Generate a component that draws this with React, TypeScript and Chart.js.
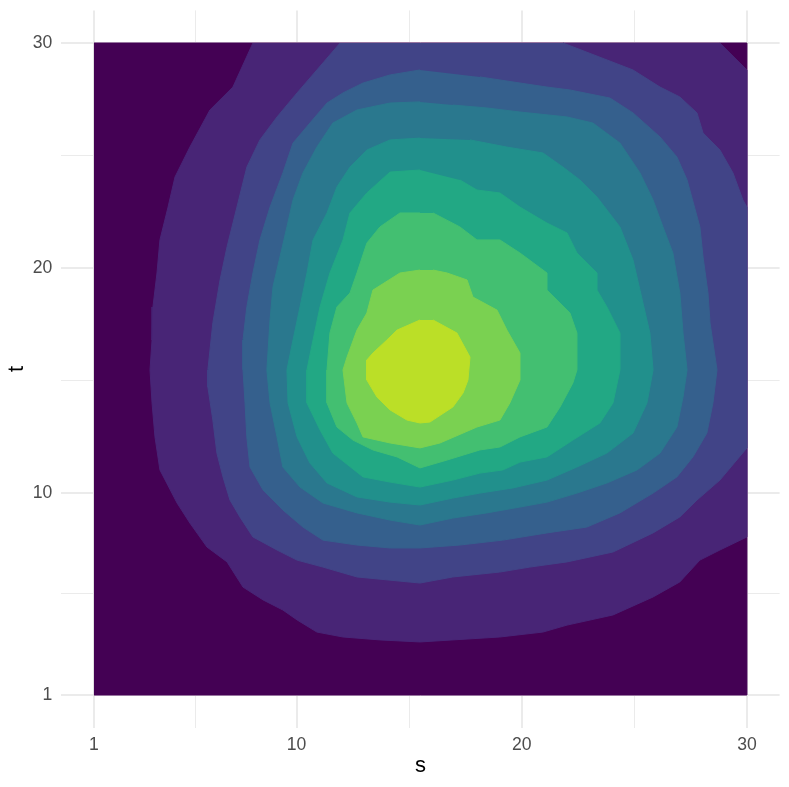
import React, { useEffect, useRef } from "react";
import { Chart, registerables } from "chart.js";

Chart.register(...registerables);

// Axis ticks
const xMajorTicks = [1, 10, 20, 30];
const yMajorTicks = [1, 10, 20, 30];
const xMinorTicks = [5.5, 15, 25];
const yMinorTicks = [5.5, 15, 25];
const xRange = [1, 30];
const yRange = [1, 30];
const xTitle = "s";
const yTitle = "t";

// viridis colours for the density bands (low -> high)
const bandColors = [
  "#440154",
  "#482576",
  "#414487",
  "#35608D",
  "#2A788E",
  "#21908C",
  "#22A884",
  "#43BF71",
  "#7AD151",
  "#BBDF27",
];

// Filled contour regions, each an [s, t] polygon (clipped to the data box)
const band1 = [[1, 1], [30, 1], [30, 30], [1, 30]];

const band2 = [
  [8.06, 30], [7.17, 28.04], [6.15, 27.02], [5.26, 25.37], [4.6, 24.04], [4.29, 22.7],
  [3.93, 21.24], [3.8, 19.77], [3.62, 18.26], [3.58, 16.79], [3.49, 15.46], [3.58, 13.99],
  [3.71, 12.48], [3.93, 11.01], [4.69, 9.54], [5.26, 8.65], [6.02, 7.58], [6.91, 6.92],
  [7.62, 5.8], [8.51, 5.23], [9.39, 4.78], [10.02, 4.34], [10.9, 3.8], [12.06, 3.58],
  [13.7, 3.45], [15.48, 3.36], [19.03, 3.58], [20.94, 3.8], [22.01, 4.11], [24.05, 4.56],
  [25.83, 5.36], [27.02, 6.03], [27.91, 7.0], [28.8, 7.45], [30, 8.03], [30, 28.8], [28.8, 30],
];

const band3 = [
  [11.93, 30], [10.9, 28.8], [10.02, 27.78], [9.13, 26.71], [8.37, 25.69], [7.79, 24.48],
  [7.35, 22.7], [6.91, 20.93], [6.6, 19.46], [6.28, 17.55], [6.06, 15.46], [6.06, 14.7],
  [6.28, 13.23], [6.46, 11.76], [6.73, 10.7], [7.04, 9.67], [7.48, 8.92], [8.06, 8.03],
  [9.13, 7.45], [10.02, 7.0], [11.17, 6.69], [12.68, 6.25], [15.48, 5.98], [16.94, 6.25],
  [19.03, 6.47], [20.36, 6.69], [22.01, 6.92], [24.05, 7.36], [25.83, 8.21], [27.02, 8.92],
  [27.78, 9.67], [28.8, 10.56], [30, 11.99], [30, 22.7], [29.82, 23.02], [29.38, 24.22],
  [28.8, 25.24], [28.05, 26.0], [27.78, 26.89], [27.02, 27.6], [26.14, 28.04], [24.94, 28.8],
  [21.83, 30],
];

const band4 = [
  [15.48, 28.8], [14.15, 28.58], [12.95, 28.22], [12.06, 27.78], [11.35, 27.33], [10.59, 26.44],
  [9.84, 25.55], [9.39, 24.22], [8.82, 22.7], [8.37, 21.24], [8.06, 19.77], [7.79, 18.26],
  [7.62, 16.79], [7.62, 15.46], [7.71, 13.99], [7.79, 12.48], [7.93, 11.14], [8.51, 10.12],
  [9.39, 9.23], [10.28, 8.47], [11.17, 7.89], [12.68, 7.67], [14.15, 7.54], [15.48, 7.54],
  [17.25, 7.67], [19.16, 7.89], [21.12, 8.21], [22.89, 8.47], [24.36, 9.1], [25.83, 9.98],
  [26.89, 10.7], [27.6, 11.59], [28.22, 12.65], [28.49, 13.99], [28.67, 15.46], [28.36, 17.55],
  [28.27, 18.88], [28.05, 20.48], [27.91, 21.82], [27.34, 23.91], [26.89, 24.93], [26.14, 25.82],
  [24.94, 26.89], [23.92, 27.55], [22.14, 27.91], [21.12, 28.04], [19.92, 28.22], [18.14, 28.49],
];

const band5 = [
  [15.48, 27.38], [14.15, 27.33], [12.68, 27.02], [11.61, 26.44], [10.9, 25.37], [10.28, 24.22],
  [9.84, 23.02], [9.57, 21.82], [9.26, 20.48], [8.95, 19.15], [8.82, 17.68], [8.68, 15.46],
  [8.82, 13.99], [9.13, 12.48], [9.39, 11.14], [10.15, 10.25], [11.17, 9.54], [12.68, 9.1],
  [14.15, 8.78], [15.48, 8.56], [16.94, 8.87], [18.45, 9.1], [19.92, 9.36], [21.12, 9.58],
  [22.45, 9.98], [23.78, 10.43], [25.12, 11.01], [26.14, 11.76], [26.89, 12.92], [27.16, 14.25],
  [27.34, 15.46], [27.16, 17.1], [27.02, 18.88], [26.71, 20.66], [26.27, 21.82], [25.83, 23.02],
  [25.25, 24.22], [24.36, 25.55], [23.16, 26.44], [22.01, 26.71], [19.92, 26.93], [18.45, 27.11],
  [16.94, 27.24],
];

const band6 = [
  [15.48, 25.77], [14.15, 25.69], [13.12, 25.24], [12.37, 24.48], [11.79, 23.6], [11.35, 22.44],
  [10.73, 21.24], [10.46, 19.77], [10.15, 18.26], [9.84, 16.79], [9.57, 15.46], [9.62, 13.99],
  [10.02, 12.48], [10.59, 11.32], [11.35, 10.43], [12.68, 9.81], [14.15, 9.58], [15.48, 9.45],
  [16.94, 9.76], [18.14, 9.98], [19.61, 10.21], [21.12, 10.56], [22.45, 11.14], [23.78, 11.76],
  [24.94, 12.65], [25.56, 13.99], [25.83, 15.46], [25.69, 17.1], [25.25, 19.01], [24.94, 20.35],
  [24.36, 21.82], [23.34, 23.15], [22.58, 23.91], [21.83, 24.48], [20.94, 25.11], [19.34, 25.37],
  [17.7, 25.69],
];

const band7 = [
  [15.48, 24.35], [14.15, 24.26], [13.12, 23.33], [12.37, 22.44], [12.06, 21.24], [11.48, 19.77],
  [11.04, 18.26], [10.73, 16.79], [10.46, 15.46], [10.46, 13.99], [11.04, 12.79], [11.61, 11.76],
  [12.95, 10.7], [14.15, 10.47], [15.48, 10.25], [16.94, 10.56], [18.14, 10.87], [19.16, 11.01],
  [19.92, 11.36], [21.12, 11.59], [22.27, 12.34], [23.47, 13.1], [24.05, 13.99], [24.36, 15.46],
  [24.36, 17.1], [23.78, 18.26], [23.34, 19.01], [23.34, 19.77], [22.45, 20.66], [22.01, 21.55],
  [21.12, 21.99], [19.92, 22.7], [19.03, 23.33], [18.01, 23.46], [17.25, 23.91],
];

const band8 = [
  [15.48, 22.44], [14.59, 22.44], [13.7, 21.82], [13.12, 21.1], [12.68, 19.77], [12.37, 18.88],
  [11.79, 18.26], [11.48, 17.1], [11.35, 15.46], [11.35, 13.99], [11.79, 12.92], [12.5, 12.34],
  [13.39, 11.9], [14.46, 11.59], [15.48, 11.1], [16.68, 11.45], [18.14, 11.9], [19.03, 12.03],
  [19.92, 12.48], [21.12, 12.92], [21.7, 13.81], [22.27, 14.88], [22.45, 15.46], [22.45, 17.1],
  [22.14, 17.99], [21.12, 19.01], [21.12, 19.77], [19.92, 20.66], [19.03, 21.24], [18.01, 21.24],
  [17.25, 21.82], [16.06, 22.44],
];

const band9 = [
  [15.48, 19.9], [14.59, 19.77], [13.39, 19.01], [13.12, 17.99], [12.68, 17.23], [12.24, 16.03],
  [12.06, 15.46], [12.24, 13.99], [12.68, 13.1], [12.95, 12.48], [14.15, 12.21], [15.48, 11.99],
  [16.37, 12.21], [18.01, 12.92], [19.03, 13.23], [19.47, 13.99], [19.92, 15.01], [19.92, 16.21],
  [19.34, 17.23], [18.9, 18.12], [17.83, 18.7], [17.57, 19.46], [16.68, 19.77], [16.06, 19.9],
];

const band10 = [
  [15.48, 17.68], [14.46, 17.23], [14.01, 16.79], [13.39, 16.21], [13.12, 15.9], [13.12, 15.01],
  [13.57, 14.25], [14.15, 13.68], [14.9, 13.23], [15.48, 13.1], [15.92, 13.14], [16.94, 13.81],
  [17.39, 14.43], [17.61, 15.01], [17.7, 16.03], [17.12, 17.1], [16.06, 17.68],
];

const bands = [band1, band2, band3, band4, band5, band6, band7, band8, band9, band10];

const W = 789;
const H = 787;

function expand(r: number[]) {
  const d = (r[1] - r[0]) * 0.05;
  return [r[0] - d, r[1] + d];
}

export default function App() {
  const ref = useRef<HTMLCanvasElement | null>(null);

  useEffect(() => {
    if (!ref.current) return;
    const [xmin, xmax] = expand(xRange);
    const [ymin, ymax] = expand(yRange);
    const family = "'Liberation Sans', Arial, Helvetica, sans-serif";
    const tickFont = { family, size: 17.6 };
    const titleFont = { family, size: 22 };
    const xAll = [...xMajorTicks, ...xMinorTicks].sort((a, b) => a - b);
    const yAll = [...yMajorTicks, ...yMinorTicks].sort((a, b) => a - b);

    const chart = new Chart(ref.current, {
      type: "line",
      data: {
        datasets: bands.map((b, i) => ({
          label: "level " + (i + 1),
          data: b.map(([s, t]) => ({ x: s, y: t })),
          backgroundColor: bandColors[i],
          borderColor: bandColors[i],
          borderWidth: 1,
          pointRadius: 0,
          fill: "shape",
          tension: 0,
          order: bands.length - i,
        })),
      },
      options: {
        animation: false,
        responsive: false,
        devicePixelRatio: 1,
        layout: { padding: { top: 10.4, right: 9.4, left: 0, bottom: 0 } },
        plugins: {
          legend: { display: false },
          tooltip: { enabled: false },
        },
        scales: {
          x: {
            type: "linear",
            min: xmin,
            max: xmax,
            afterBuildTicks: (s: any) => {
              s.ticks = xAll.map((v) => ({ value: v }));
            },
            afterFit: (s: any) => {
              s.height = 59.4;
              s.paddingLeft = 0;
              s.paddingRight = 0;
            },
            border: { display: false },
            grid: {
              color: "#EBEBEB",
              lineWidth: (c: any) => (c.tick && xMajorTicks.includes(c.tick.value) ? 2 : 1),
              drawTicks: false,
            },
            ticks: {
              autoSkip: false,
              maxRotation: 0,
              padding: 7,
              color: "#4D4D4D",
              font: tickFont,
              callback: (v: any) => (xMajorTicks.includes(Number(v)) ? String(v) : ""),
            },
            title: {
              display: true,
              text: xTitle,
              color: "#000000",
              font: titleFont,
              padding: { top: 0, bottom: 8.2 },
            },
          },
          y: {
            type: "linear",
            min: ymin,
            max: ymax,
            afterBuildTicks: (s: any) => {
              s.ticks = yAll.map((v) => ({ value: v }));
            },
            afterFit: (s: any) => {
              s.width = 61.3;
              s.paddingTop = 0;
              s.paddingBottom = 0;
            },
            border: { display: false },
            grid: {
              color: "#EBEBEB",
              lineWidth: (c: any) => (c.tick && yMajorTicks.includes(c.tick.value) ? 2 : 1),
              drawTicks: false,
            },
            ticks: {
              autoSkip: false,
              padding: 9,
              color: "#4D4D4D",
              font: tickFont,
              callback: (v: any) => (yMajorTicks.includes(Number(v)) ? String(v) : ""),
            },
            title: {
              display: true,
              text: yTitle,
              color: "#000000",
              font: titleFont,
              padding: { top: 4.1, bottom: 0 },
            },
          },
        },
      },
    } as any);

    return () => chart.destroy();
  }, []);

  return (
    <div style={{ position: "fixed", left: 0, top: 0, width: W, height: H, background: "#ffffff" }}>
      <canvas ref={ref} width={W} height={H} style={{ display: "block", width: W, height: H }} />
    </div>
  );
}
